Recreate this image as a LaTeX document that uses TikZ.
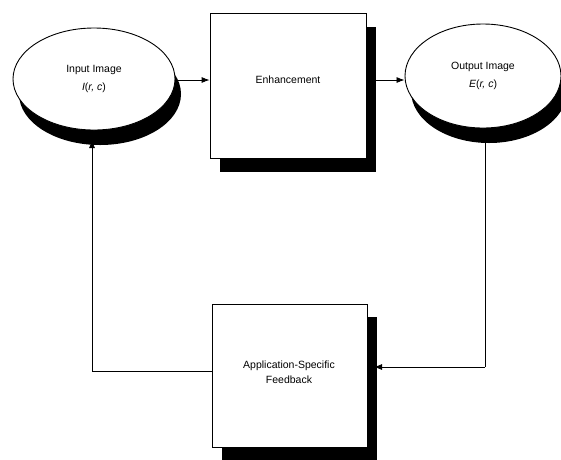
\documentclass[tikz,border=0pt]{standalone}
\usepackage{fontspec}
\setsansfont{Liberation Sans}
\usetikzlibrary{shapes,arrows.meta,positioning,shadows}

\begin{document}
\begin{tikzpicture}[
    x=1pt, y=-1pt,
    image/.style={draw, ellipse, line width=0.9pt, fill=white, inner sep=0pt,
        font=\sffamily\fontsize{10.5}{18}\selectfont, align=center,
        general shadow={fill=black, shadow xshift=6pt, shadow yshift=-15pt}},
    block/.style={draw, rectangle, line width=0.8pt, fill=white, inner sep=0pt,
        font=\sffamily\fontsize{10.5}{15}\selectfont, align=center,
        general shadow={fill=black, shadow xshift=10pt, shadow yshift=-13pt}},
    edge/.style={-{Latex[length=8pt,width=6pt]}, line width=0.8pt},
    line/.style={line width=0.8pt},
]
\useasboundingbox (0,0) rectangle (561,459);

% Processing chain
\node[image, minimum width=162pt, minimum height=102pt] (inimg) at (94,79)
    {Input Image\\{\itshape I}(\textit{r, c})};
\node[block, minimum width=156pt, minimum height=145pt] (enh) at (288,86) {};
\node at (288,80) [font=\sffamily\fontsize{10.5}{15}\selectfont] (enhtext) {Enhancement};
\node[image, minimum width=156pt, minimum height=104pt] (outimg) at (483,76)
    {Output Image\\{\itshape E}(\textit{r, c})};
\node[block, minimum width=155pt, minimum height=143pt] (feedback) at (289.5,375.5) {};
\node at (289,372) [font=\sffamily\fontsize{10.5}{15}\selectfont, align=center] (fbtext)
    {Application-Specific\\Feedback};

% Feedback loop
\coordinate (outdown) at (485,367);
\coordinate (indown) at (92,371);

\draw[edge] (inimg.east |- 0,80) -- (enh.west |- 0,80);
\draw[edge] (376,80) -- (outimg.west |- 0,80);
\draw[line] (outimg.south -| outdown) ++(0,14) -- (outdown);
\draw[edge] (outdown) -- (374,367);
\draw[line] (feedback.west |- indown) -- (indown);
\draw[edge] (indown) -- (92,140);

\end{tikzpicture}
\end{document}
